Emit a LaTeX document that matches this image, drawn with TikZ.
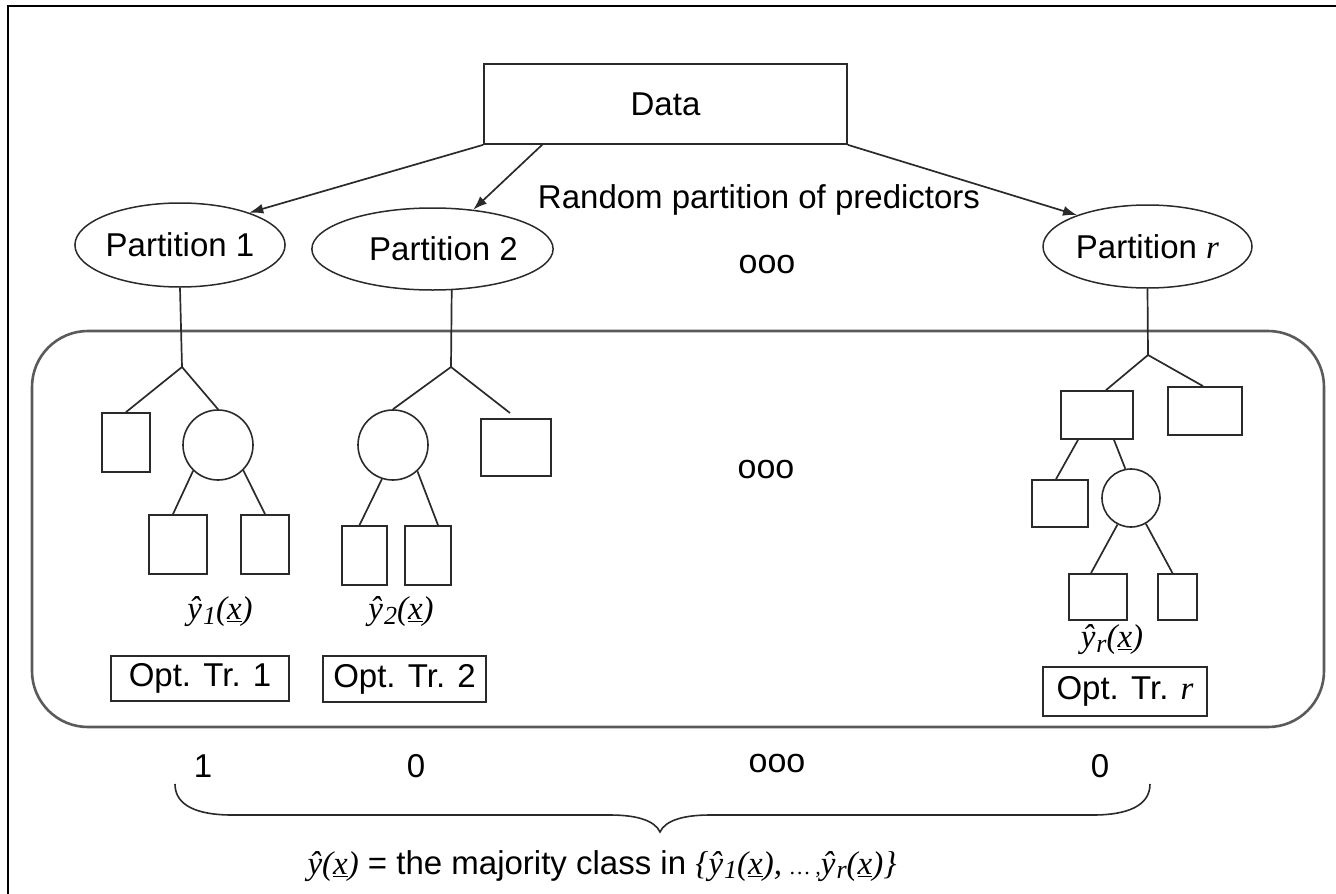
\documentclass[tikz,border=0pt]{standalone}
\usepackage{fontspec}
\setmainfont{Liberation Sans}
\newfontfamily\tnr{Liberation Serif}
\usetikzlibrary{arrows.meta,shapes.geometric}
\definecolor{ink}{HTML}{2A2A2A}
\definecolor{frame}{HTML}{5A5A5A}
% italic serif estimator  y-hat_i(x)
\newcommand\estim[1]{{\tnr\itshape ŷ\kern1pt\raisebox{-0.28ex}{\fontsize{26}{28}\selectfont #1}(\underline{x})}}
\begin{document}
\begin{tikzpicture}[x=1pt,y=-1pt,
  every node/.style={font=\fontsize{33}{38}\selectfont, text=black},
  ln/.style={draw=ink, line width=1.7pt},
  arr/.style={ln, -{Latex[length=14pt,width=10pt]}},
  leaf/.style={draw=ink, line width=1.8pt, rectangle, inner sep=0pt},
  split/.style={draw=ink, line width=1.6pt, circle, inner sep=0pt},
  part/.style={draw=ink, line width=1.5pt, ellipse, inner sep=0pt},
  optbox/.style={draw=ink, line width=1.6pt, rectangle, inner sep=0pt},
  dots/.style={font=\fontsize{34}{38}\selectfont}]
\useasboundingbox (0,0) rectangle (1336,894);

% outer frame (top and left edges)
\draw[black, line width=1.5pt] (8,894) -- (8,6) -- (1336,6);

% rounded panel holding the trees
\draw[frame, line width=2.6pt, rounded corners=56pt] (32,331) rectangle (1324,727);

% data and partitions
\node[draw=ink, line width=1.7pt, minimum width=363pt, minimum height=80pt, inner sep=0pt] (data) at (665.5,104) {Data};
\node[part, minimum width=196pt, minimum height=84pt] (p1) at (180,245) {Partition 1};
\node[part, minimum width=221pt, minimum height=82pt] (p2) at (432.5,249) {\hspace*{22pt}Partition 2};
\node[part, minimum width=209pt, minimum height=83pt] (pr) at (1147.5,246.5) {Partition {\tnr\itshape r}};
\node (rp) at (759,200) {Random partition of predictors};
\node[dots] (d1) at (767,265) {ooo};

\coordinate (s2) at (543,144);
\draw[arr] (data.south west) -- (p1.25);
\draw[arr] (s2) -- (p2.44);
\draw[arr] (data.south east) -- (pr.156);

% tree 1
\coordinate (a1) at (182,367);
\node[leaf, minimum width=48pt, minimum height=59pt] (b11) at (126,442.5) {};
\node[split, minimum size=70pt] (c1) at (218,445) {};
\node[leaf, minimum width=58pt, minimum height=59pt] (b12) at (178,544.5) {};
\node[leaf, minimum width=48pt, minimum height=59pt] (b13) at (265,544.5) {};
\draw[ln] (p1.south) -- (a1);
\draw[ln] (b11.north) -- (a1) -- (c1.north);
\draw[ln] (c1.226) -- ([xshift=-5pt]b12.north);
\draw[ln] (c1.315) -- (b13.north);

% tree 2
\coordinate (a2) at (451,367);
\coordinate (e2) at (510,413);
\node[split, minimum size=70pt] (c2) at (393,445) {};
\node[leaf, minimum width=70pt, minimum height=57pt] (b21) at (516,447.5) {};
\node[leaf, minimum width=45pt, minimum height=59pt] (b22) at (364.5,555.5) {};
\node[leaf, minimum width=46pt, minimum height=59pt] (b23) at (428,555.5) {};
\draw[ln] (p2.-65) -- (a2);
\draw[ln] (c2.north) -- (a2) -- (e2);
\draw[ln] (c2.252) -- ([xshift=-5pt]b22.north);
\draw[ln] (c2.313) -- ([xshift=10pt]b23.north);

\node[dots] (d2) at (766,470) {ooo};

% tree r
\coordinate (ar) at (1148,355);
\node[leaf, minimum width=72pt, minimum height=48pt] (br1) at (1097,415) {};
\node[leaf, minimum width=74pt, minimum height=48pt] (br2) at (1205,411) {};
\node[leaf, minimum width=56pt, minimum height=47pt] (br3) at (1060,503.5) {};
\node[split, minimum size=58pt] (cr) at (1131,498) {};
\node[leaf, minimum width=58pt, minimum height=46pt] (br4) at (1098,597) {};
\node[leaf, minimum width=39pt, minimum height=46pt] (br5) at (1177.5,597) {};
\draw[ln] (pr.south) -- (ar);
\draw[ln] ([xshift=9pt]br1.north) -- (ar) -- ([xshift=-2pt]br2.north);
\draw[ln] ([xshift=-19pt]br1.south) -- ([xshift=-4pt]br3.north);
\draw[ln] ([xshift=17pt]br1.south) -- (cr.101);
\draw[ln] (cr.243) -- ([xshift=-7pt]br4.north);
\draw[ln] (cr.300) -- ([xshift=-5pt]br5.north);

% estimators and optimal trees
\node (l1) at (220,612) {\estim{1}};
\node (l2) at (401,612) {\estim{2}};
\node (lr) at (1112,640) {\estim{r}};
\node[optbox, minimum width=178pt, minimum height=45pt] (o1) at (200,678.5) {Opt. Tr. 1};
\node[optbox, minimum width=163pt, minimum height=46pt] (o2) at (404.5,679) {Opt. Tr. 2};
\node[optbox, minimum width=164pt, minimum height=49pt] (or) at (1125,691.5) {Opt. Tr. {\tnr\itshape r}};

% votes
\node (n1) at (203,766) {1};
\node (n2) at (416,766) {0};
\node[dots] (n3) at (777,764) {ooo};
\node (n4) at (1100,766) {0};

% brace over the votes
\draw[ink, line width=1.6pt]
  (175,784) .. controls (175,806) and (198,815) .. (232,815) -- (610,815)
  .. controls (638,815) and (655,821) .. (660,832)
  .. controls (665,821) and (682,815) .. (710,815) -- (1093,815)
  .. controls (1127,815) and (1150,806) .. (1150,784);

% majority vote
\node (mv) at (602,866) {{\tnr\itshape ŷ(\underline{x})} = the majority class in {\tnr\itshape\{}\estim{1}{\tnr\itshape, \fontsize{22}{24}\selectfont\dots\ ,}\estim{r}{\tnr\itshape\}}};
\end{tikzpicture}
\end{document}
